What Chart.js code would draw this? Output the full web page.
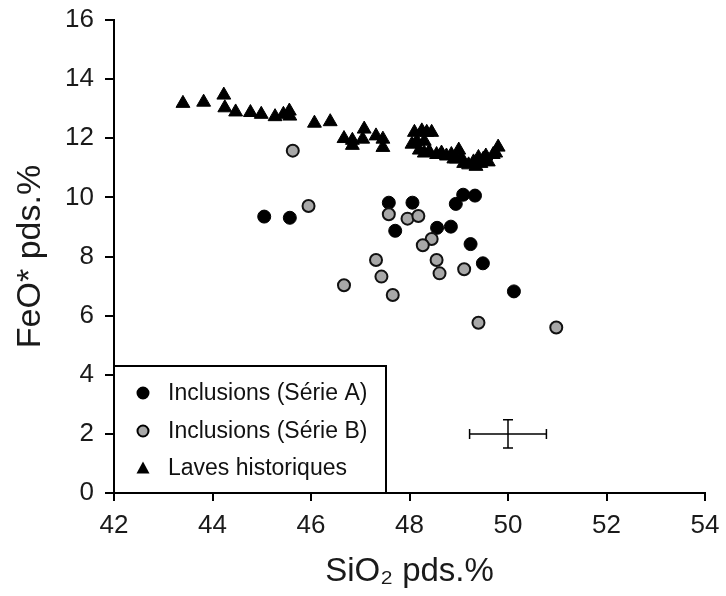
<!DOCTYPE html>
<html>
<head>
<meta charset="utf-8">
<script src="https://cdn.jsdelivr.net/npm/chart.js@4"></script>
<style>
  html, body { margin: 0; padding: 0; background: #fff; }
  #wrap { width: 726px; height: 596px; }
</style>
</head>
<body>
<div id="wrap"><canvas id="feoChart" width="726" height="596"></canvas></div>
<script>
// Inclusions (Série A)
const serieA_si = [45.05, 45.57, 47.58, 47.71, 48.06, 48.56, 48.84, 48.94, 49.09, 49.33, 49.24, 49.49, 50.12];
const serieA_fe = [9.35, 9.31, 9.82, 8.87, 9.82, 8.97, 9.01, 9.78, 10.09, 10.06, 8.42, 7.77, 6.82];

// Inclusions (Série B)
const serieB_si = [45.63, 45.95, 47.58, 47.96, 48.18, 47.32, 47.43, 46.67, 47.66, 48.45, 48.27, 48.55, 48.61, 49.11, 49.40, 50.98];
const serieB_fe = [11.58, 9.71, 9.43, 9.28, 9.37, 7.88, 7.32, 7.03, 6.70, 8.59, 8.38, 7.88, 7.43, 7.57, 5.76, 5.60];

// Laves historiques
const laves_si = [43.40, 43.82, 44.23, 44.25, 44.47, 44.77, 44.99, 45.27, 45.44, 45.56, 45.57,
  46.07, 46.39, 46.67, 46.84, 46.84, 47.08, 47.05, 47.32, 47.46, 47.46,
  48.10, 48.25, 48.35, 48.45, 48.05, 48.15, 48.30, 48.20, 48.30, 48.40, 48.55, 48.65, 48.75,
  48.85, 48.90, 48.95, 49.00, 49.05, 49.10, 49.20, 49.30, 49.35, 49.40, 49.45, 49.50,
  49.55, 49.60, 49.70, 49.75, 49.80];
const laves_fe = [13.18, 13.22, 13.46, 13.03, 12.89, 12.87, 12.81, 12.73, 12.81, 12.92, 12.75,
  12.51, 12.56, 11.99, 11.93, 11.76, 12.31, 11.97, 12.08, 11.97, 11.69,
  12.20, 12.25, 12.20, 12.20, 11.80, 11.90, 11.90, 11.60, 11.50, 11.55, 11.45, 11.50, 11.40,
  11.45, 11.30, 11.30, 11.60, 11.35, 11.15, 11.10, 11.20, 11.05, 11.35, 11.15, 11.30,
  11.40, 11.20, 11.45, 11.50, 11.70];

// error bar (typical uncertainty)
const errSi = 50.0, errFe = 2.0, errDx = 0.78, errDy = 0.48;

const xTicks = [42, 44, 46, 48, 50, 52, 54];
const yTicks = [0, 2, 4, 6, 8, 10, 12, 14, 16];

function pts(xs, ys) {
  return xs.map((x, i) => ({ x: x, y: ys[i] }));
}

const FONT = 'Liberation Sans, Arial, sans-serif';

const extras = {
  id: 'extras',
  afterDatasetsDraw(chart) {
    const ctx = chart.ctx;
    const xs = chart.scales.x, ys = chart.scales.y;
    ctx.save();
    // error bar
    const cx = xs.getPixelForValue(errSi), cy = ys.getPixelForValue(errFe);
    const x1 = xs.getPixelForValue(errSi - errDx), x2 = xs.getPixelForValue(errSi + errDx);
    const y1 = ys.getPixelForValue(errFe + errDy), y2 = ys.getPixelForValue(errFe - errDy);
    ctx.strokeStyle = '#000';
    ctx.lineWidth = 1.5;
    ctx.beginPath();
    ctx.moveTo(x1, cy); ctx.lineTo(x2, cy);
    ctx.moveTo(x1, cy - 5); ctx.lineTo(x1, cy + 5);
    ctx.moveTo(x2, cy - 5); ctx.lineTo(x2, cy + 5);
    ctx.moveTo(cx, y1); ctx.lineTo(cx, y2);
    ctx.moveTo(cx - 5, y1); ctx.lineTo(cx + 5, y1);
    ctx.moveTo(cx - 5, y2); ctx.lineTo(cx + 5, y2);
    ctx.stroke();

    // legend box, sitting on the axes
    const left = chart.chartArea.left, bottom = chart.chartArea.bottom;
    const bx = left, by = 366, bw = 272, bh = bottom - by;
    ctx.fillStyle = '#fff';
    ctx.fillRect(bx, by, bw, bh);
    ctx.lineWidth = 2;
    ctx.strokeRect(bx, by, bw, bh);
    const rows = [393, 431, 468];
    ctx.font = '23px ' + FONT;
    ctx.textBaseline = 'middle';
    chart.data.datasets.forEach((ds, i) => {
      const mx = 143, my = rows[i];
      ctx.beginPath();
      if (ds.pointStyle === 'triangle') {
        ctx.moveTo(mx, my - 6.5); ctx.lineTo(mx + 6.5, my + 5.5); ctx.lineTo(mx - 6.5, my + 5.5); ctx.closePath();
        ctx.fillStyle = '#000'; ctx.fill();
      } else {
        ctx.arc(mx, my, 5.5, 0, Math.PI * 2);
        ctx.fillStyle = ds.backgroundColor; ctx.fill();
        ctx.lineWidth = 2; ctx.strokeStyle = '#000'; ctx.stroke();
      }
      ctx.fillStyle = '#111';
      ctx.fillText(ds.label, 168, my + 1);
    });
    ctx.restore();
  }
};

new Chart(document.getElementById('feoChart').getContext('2d'), {
  type: 'scatter',
  data: {
    datasets: [
      {
        label: 'Inclusions (Série A)',
        data: pts(serieA_si, serieA_fe),
        pointStyle: 'circle',
        pointRadius: 6.5,
        backgroundColor: '#000',
        borderColor: '#000',
        borderWidth: 1,
        order: 2
      },
      {
        label: 'Inclusions (Série B)',
        data: pts(serieB_si, serieB_fe),
        pointStyle: 'circle',
        pointRadius: 6,
        backgroundColor: '#a8a8a8',
        borderColor: '#111',
        borderWidth: 2,
        order: 1
      },
      {
        label: 'Laves historiques',
        data: pts(laves_si, laves_fe),
        pointStyle: 'triangle',
        pointRadius: 8,
        backgroundColor: '#000',
        borderColor: '#000',
        borderWidth: 1,
        order: 3
      }
    ]
  },
  options: {
    responsive: false,
    animation: false,
    layout: { padding: { top: 20, right: 21, left: 0, bottom: 0 } },
    plugins: { legend: { display: false }, tooltip: { enabled: false } },
    scales: {
      x: {
        type: 'linear',
        min: 42, max: 54,
        afterBuildTicks: (s) => { s.ticks = xTicks.map(v => ({ value: v })); },
        afterFit: (s) => { s.height = 103; s.paddingLeft = 0; s.paddingRight = 0; },
        grid: { drawOnChartArea: false, drawTicks: true, tickLength: 8, color: '#000', lineWidth: 2 },
        border: { color: '#000', width: 2 },
        ticks: { color: '#1a1a1a', font: { family: FONT, size: 26 }, padding: 9 },
        title: { display: true, text: 'SiO₂ pds.%', color: '#1a1a1a', font: { family: FONT, size: 33 }, padding: { top: 6 } }
      },
      y: {
        type: 'linear',
        min: 0, max: 16,
        afterBuildTicks: (s) => { s.ticks = yTicks.map(v => ({ value: v })); },
        afterFit: (s) => { s.width = 114; s.paddingTop = 0; s.paddingBottom = 0; },
        grid: { drawOnChartArea: false, drawTicks: true, tickLength: 9, color: '#000', lineWidth: 2 },
        border: { color: '#000', width: 2 },
        ticks: { color: '#1a1a1a', font: { family: FONT, size: 26 }, padding: 11 },
        title: { display: true, text: 'FeO* pds.%', color: '#1a1a1a', font: { family: FONT, size: 34 }, padding: { top: 10, bottom: 6 } }
      }
    }
  },
  plugins: [extras]
});
</script>
</body>
</html>
